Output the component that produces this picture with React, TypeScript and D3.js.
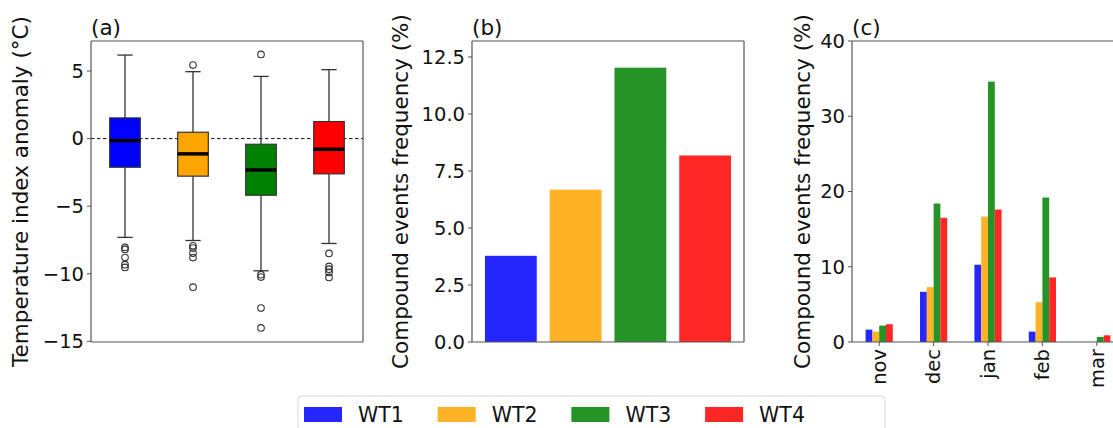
import React from 'react';
import * as d3 from 'd3';

// weather types
const groups = ['WT1', 'WT2', 'WT3', 'WT4'];
const boxColors = ['#0000ff', '#ffa500', '#008000', '#ff0000'];
const barColors = ['#2626ff', '#ffb226', '#269326', '#ff2626'];

// (a) temperature index anomaly box stats
const boxQ1 = [-2.12, -2.78, -4.19, -2.61];
const boxMedian = [-0.15, -1.13, -2.32, -0.79];
const boxQ3 = [1.53, 0.47, -0.42, 1.26];
const whiskerLow = [-7.31, -7.54, -9.78, -7.76];
const whiskerHigh = [6.18, 4.95, 4.6, 5.1];
const outliers = [
  [-8.05, -8.2, -8.8, -9.33, -9.53],
  [5.44, -7.93, -8.1, -8.47, -8.8, -10.99],
  [6.23, -10.07, -10.25, -12.54, -14.01],
  [-8.5, -9.46, -9.66, -9.9, -10.27],
];
const ticksA = [5, 0, -5, -10, -15];

// (b) compound events frequency per WT (%)
const freqTotal = [3.78, 6.68, 12.03, 8.18];
const ticksB = [0, 2.5, 5, 7.5, 10, 12.5];

// (c) compound events frequency per month (%)
const months = ['nov', 'dec', 'jan', 'feb', 'mar'];
const freqWT1 = [1.64, 6.67, 10.27, 1.38, 0];
const freqWT2 = [1.38, 7.3, 16.67, 5.29, 0];
const freqWT3 = [2.18, 18.4, 34.6, 19.2, 0.67];
const freqWT4 = [2.36, 16.5, 17.6, 8.58, 0.89];
const ticksC = [0, 10, 20, 30, 40];

const FONT = 'DejaVu Sans, sans-serif';
const TICK_FS = 19.5;
const LABEL_FS = 21.5;
const LEGEND_FS = 20.5;

const top = 41;
const bottom = 342;
const panelW = 272;
const leftA = 91;
const leftB = 472;
const leftC = 852;
const axisColor = '#555';

const YAxis = ({ y, ticks, x0, fmt }) => (
  <g>
    {ticks.map((t) => (
      <g key={t} transform={`translate(${x0},${y(t)})`}>
        <line x1={-4} x2={0} stroke={axisColor} strokeWidth={1} />
        <text x={-7} dy="0.35em" textAnchor="end" fontSize={TICK_FS} fontFamily={FONT} fill="#111">
          {fmt(t)}
        </text>
      </g>
    ))}
  </g>
);

const Frame = ({ x0, clipRight }) => (
  <g fill="none" stroke={axisColor} strokeWidth={1.2}>
    <line x1={x0} x2={x0} y1={top} y2={bottom} />
    <line x1={x0} x2={x0 + panelW} y1={bottom} y2={bottom} />
    <line x1={x0} x2={x0 + panelW} y1={top} y2={top} />
    {!clipRight && <line x1={x0 + panelW} x2={x0 + panelW} y1={top} y2={bottom} />}
  </g>
);

const YLabel = ({ x, text }) => (
  <text
    transform={`translate(${x},${(top + bottom) / 2}) rotate(-90)`}
    textAnchor="middle"
    dy="0.35em"
    fontSize={LABEL_FS}
    fontFamily={FONT}
    fill="#111"
  >
    {text}
  </text>
);

const PanelTag = ({ x, text }) => (
  <text x={x} y={35} fontSize={LABEL_FS} fontFamily={FONT} fill="#111">
    {text}
  </text>
);

const PanelA = () => {
  const y = d3.scaleLinear().domain([-15.05, 7.22]).range([bottom, top]);
  const x = d3.scaleLinear().domain([0.5, 4.5]).range([leftA, leftA + panelW]);
  const boxW = 0.45 * (x(1) - x(0));
  const capW = boxW / 2;
  return (
    <g>
      <line x1={leftA} x2={leftA + panelW} y1={y(0)} y2={y(0)} stroke="#111" strokeWidth={1} strokeDasharray="3.5,2.5" />
      {groups.map((g, i) => {
        const cx = x(i + 1);
        return (
          <g key={g}>
            <line x1={cx} x2={cx} y1={y(boxQ3[i])} y2={y(whiskerHigh[i])} stroke="#333" strokeWidth={1.3} />
            <line x1={cx} x2={cx} y1={y(boxQ1[i])} y2={y(whiskerLow[i])} stroke="#333" strokeWidth={1.3} />
            <line x1={cx - capW / 2} x2={cx + capW / 2} y1={y(whiskerHigh[i])} y2={y(whiskerHigh[i])} stroke="#333" strokeWidth={1.3} />
            <line x1={cx - capW / 2} x2={cx + capW / 2} y1={y(whiskerLow[i])} y2={y(whiskerLow[i])} stroke="#333" strokeWidth={1.3} />
            <rect
              x={cx - boxW / 2}
              y={y(boxQ3[i])}
              width={boxW}
              height={y(boxQ1[i]) - y(boxQ3[i])}
              fill={boxColors[i]}
              stroke="#333"
              strokeWidth={1.2}
            />
            <line x1={cx - boxW / 2} x2={cx + boxW / 2} y1={y(boxMedian[i])} y2={y(boxMedian[i])} stroke="#000" strokeWidth={3.5} />
            {outliers[i].map((v, k) => (
              <circle key={k} cx={cx} cy={y(v)} r={3.3} fill="none" stroke="#333" strokeWidth={1.1} />
            ))}
          </g>
        );
      })}
      <Frame x0={leftA} />
      <YAxis y={y} ticks={ticksA} x0={leftA} fmt={(t) => (t < 0 ? `\u2212${-t}` : `${t}`)} />
      <YLabel x={20} text="Temperature index anomaly (°C)" />
      <PanelTag x={leftA} text="(a)" />
    </g>
  );
};

const PanelB = () => {
  const y = d3.scaleLinear().domain([0, 13.2]).range([bottom, top]);
  const x = d3.scaleLinear().domain([-0.6, 3.6]).range([leftB, leftB + panelW]);
  const bw = 0.8 * (x(1) - x(0));
  return (
    <g>
      {freqTotal.map((v, i) => (
        <rect key={i} x={x(i) - bw / 2} y={y(v)} width={bw} height={y(0) - y(v)} fill={barColors[i]} />
      ))}
      <Frame x0={leftB} />
      <YAxis y={y} ticks={ticksB} x0={leftB} fmt={d3.format('.1f')} />
      <YLabel x={400} text="Compound events frequency (%)" />
      <PanelTag x={leftB} text="(b)" />
    </g>
  );
};

const PanelC = () => {
  const y = d3.scaleLinear().domain([0, 40]).range([bottom, top]);
  const x = d3.scaleLinear().domain([-0.5, 4.5]).range([leftC, leftC + panelW]);
  const series = [freqWT1, freqWT2, freqWT3, freqWT4];
  const bw = 0.125 * (x(1) - x(0));
  return (
    <g>
      {series.map((s, j) =>
        s.map((v, i) => {
          const cx = x(i + (j - 1.5) * 0.125);
          return <rect key={`${j}-${i}`} x={cx - bw / 2} y={y(v)} width={bw} height={y(0) - y(v)} fill={barColors[j]} />;
        })
      )}
      <Frame x0={leftC} clipRight />
      <YAxis y={y} ticks={ticksC} x0={leftC} fmt={(t) => `${t}`} />
      {months.map((m, i) => (
        <g key={m} transform={`translate(${x(i)},${bottom})`}>
          <line y1={0} y2={4} stroke={axisColor} strokeWidth={1} />
          <text
            transform="translate(0,7) rotate(-90)"
            textAnchor="end"
            dy="0.35em"
            fontSize={TICK_FS}
            fontFamily={FONT}
            fill="#111"
          >
            {m}
          </text>
        </g>
      ))}
      <YLabel x={802} text="Compound events frequency (%)" />
      <PanelTag x={leftC} text="(c)" />
    </g>
  );
};

const Legend = () => {
  const lx = 298;
  const ly = 396;
  const step = 133.7;
  return (
    <g>
      <rect x={lx} y={ly} width={587} height={50} rx={4} fill="#fff" stroke="#d6d6d6" strokeWidth={1} />
      {groups.map((g, i) => (
        <g key={g} transform={`translate(${lx + 6 + i * step},${ly})`}>
          <rect x={0} y={11} width={38} height={15} fill={barColors[i]} />
          <text x={54} y={26} fontSize={LEGEND_FS} fontFamily={FONT} fill="#111">
            {g}
          </text>
        </g>
      ))}
    </g>
  );
};

export default function App() {
  return (
    <svg
      width={1113}
      height={428}
      style={{ position: 'absolute', left: 0, top: 0, background: '#fff' }}
    >
      <rect width={1113} height={428} fill="#fff" />
      <PanelA />
      <PanelB />
      <PanelC />
      <Legend />
    </svg>
  );
}
